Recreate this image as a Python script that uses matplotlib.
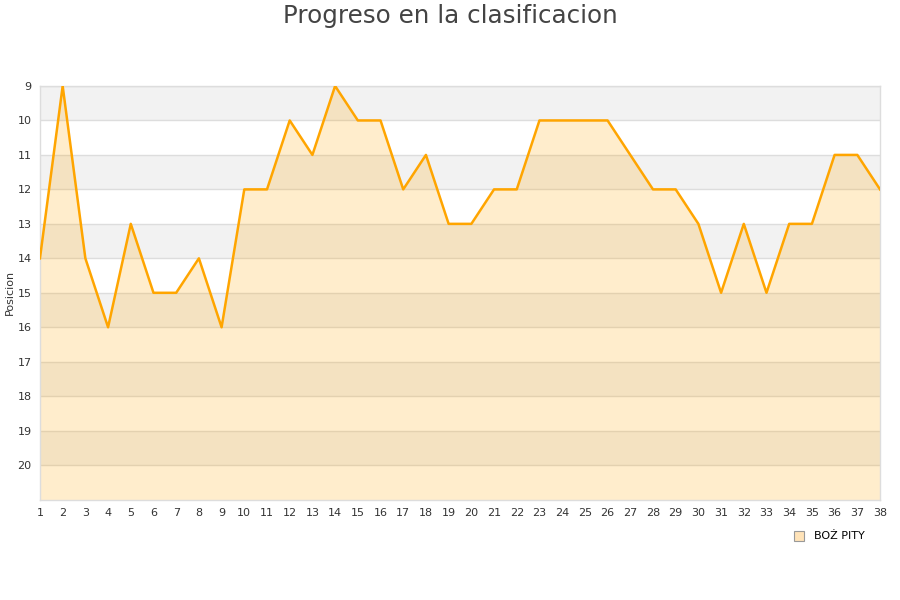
import matplotlib
matplotlib.use("Agg")
import matplotlib.pyplot as plt
from matplotlib.lines import Line2D

jornadas = list(range(1, 39))
posiciones = [14, 9, 14, 16, 13, 15, 15, 14, 16, 12, 12, 10, 11, 9, 10, 10, 12, 11, 13, 13,
              12, 12, 10, 10, 10, 10, 11, 12, 12, 13, 15, 13, 15, 13, 13, 11, 11, 12]
y_ticks = list(range(9, 21))
equipo = "BOŻ PITY"

fig = plt.figure(figsize=(9, 6), dpi=100)
ax = fig.add_axes([0.0444, 0.1673, 0.9334, 0.6894])

ax.set_xlim(1, 38)
ax.set_ylim(21, 9)

for k in range(9, 21, 2):
    ax.axhspan(k, k + 1, color="#f2f2f2", zorder=0, lw=0)
for k in range(9, 21):
    ax.axhline(k, color="#dddddd", lw=1, zorder=1)

ax.fill_between(jornadas, posiciones, 21, color="#FFA500", alpha=0.2, lw=0, zorder=2)
ax.plot(jornadas, posiciones, color="#FFA500", lw=1.8, zorder=3)

ax.set_xticks(jornadas)
ax.set_xticklabels([str(j) for j in jornadas])
ax.set_yticks(y_ticks)
ax.tick_params(axis="both", length=0, labelsize=8, colors="#333333", pad=6)
for s in ax.spines.values():
    s.set_color("#dddddd")
    s.set_linewidth(1)

ax.set_ylabel("Posicion", fontsize=8, color="#333333", labelpad=2)

fig.suptitle("Progreso en la clasificacion", fontsize=17.7, color="#444444", y=0.993)

handle = Line2D([], [], marker="s", linestyle="none", markersize=7,
                markerfacecolor="#ffe3b8", markeredgecolor="#999999", markeredgewidth=0.8)
fig.legend([handle], [equipo], loc="center", bbox_to_anchor=(0.918, 0.106),
           frameon=False, fontsize=8, handletextpad=0.3)

fig.savefig("out.png", dpi=100)
